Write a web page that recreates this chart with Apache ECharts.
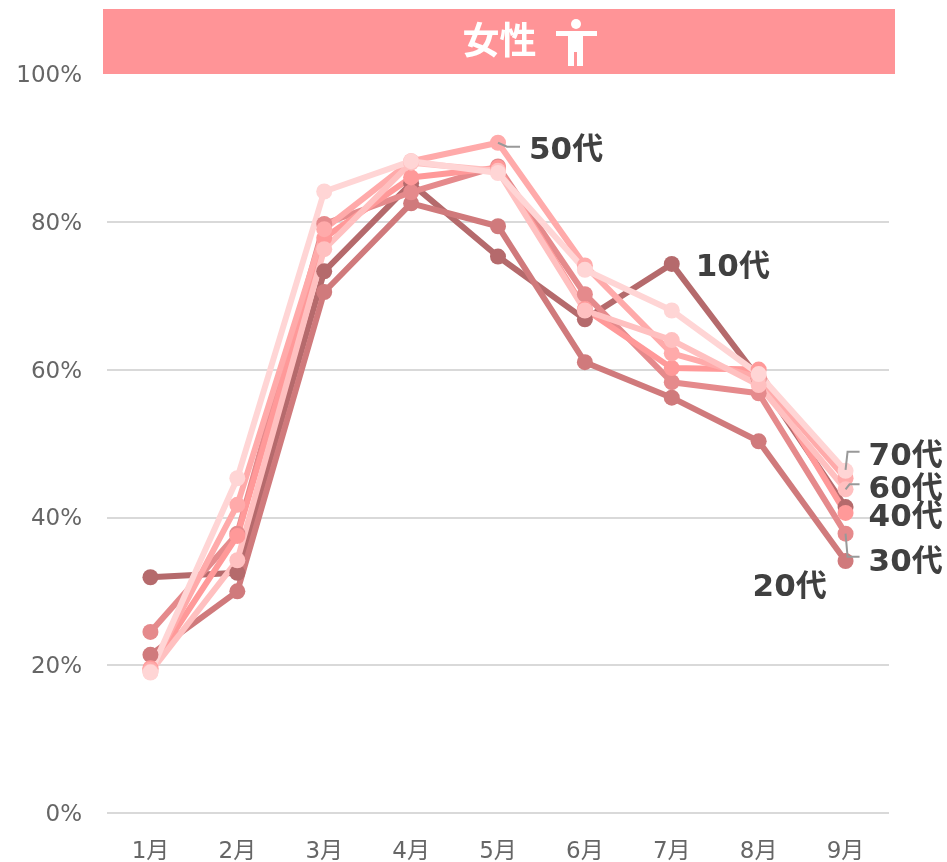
<!DOCTYPE html>
<html>
<head>
<meta charset="utf-8">
<script src="https://cdn.jsdelivr.net/npm/echarts@6/dist/echarts.min.js"></script>
<style>
  html, body { margin: 0; padding: 0; background: #fff; }
  #chart { width: 947px; height: 862px; }
</style>
</head>
<body>
<div id="chart"></div>
<script>
var months = ['1月', '2月', '3月', '4月', '5月', '6月', '7月', '8月', '9月'];
var teens = [31.9, 32.5, 73.3, 85.2, 75.3, 66.8, 74.3, 58.8, 41.4];
var twenties = [21.4, 30.0, 70.5, 82.5, 79.4, 61.0, 56.2, 50.3, 34.1];
var thirties = [24.5, 37.8, 79.7, 84.0, 87.5, 70.2, 58.3, 56.8, 37.8];
var forties = [19.6, 37.5, 77.8, 86.0, 87.3, 68.2, 60.2, 60.0, 40.6];
var fifties = [19.4, 41.7, 79.0, 88.2, 90.7, 74.1, 62.2, 58.9, 45.3];
var sixties = [19.1, 34.2, 76.3, 88.0, 86.9, 68.0, 64.0, 57.9, 43.8];
var seventies = [19.0, 45.3, 84.1, 88.2, 86.6, 73.5, 68.0, 59.4, 46.3];

var fontFamily = '"DejaVu Sans", "Noto Sans CJK JP", sans-serif';

// label: index of the labelled point and offset from it
var seriesList = [
  { name: '10代', data: teens, color: '#b56a6c', at: 6, off: [11, 4] },
  { name: '20代', data: twenties, color: '#d07a7c', at: 8, off: [-106, 27] },
  { name: '30代', data: thirties, color: '#e58a8c', at: 8, off: [10, 29] },
  { name: '40代', data: forties, color: '#ff9999', at: 8, off: [10, 5] },
  { name: '50代', data: fifties, color: '#ffaaaa', at: 4, off: [18, 8] },
  { name: '60代', data: sixties, color: '#ffc0c0', at: 8, off: [10, 1] },
  { name: '70代', data: seventies, color: '#ffd5d5', at: 8, off: [10, -14] }
];

var series = seriesList.map(function (s) {
  return {
    name: s.name,
    type: 'line',
    symbol: 'circle',
    symbolSize: 16,
    lineStyle: { width: 6, color: s.color },
    itemStyle: { color: s.color },
    animation: false,
    data: s.data.map(function (v, i) {
      if (i !== s.at) return v;
      return {
        value: v,
        label: {
          show: true,
          position: 'right',
          offset: s.off,
          formatter: s.name,
          color: '#404040',
          fontSize: 31,
          fontWeight: 'bold',
          fontFamily: fontFamily
        }
      };
    })
  };
});

var chart = echarts.init(document.getElementById('chart'));
chart.setOption({
  animation: false,
  backgroundColor: '#fff',
  grid: { left: 107, right: 58, top: 74, bottom: 49, outerBoundsMode: 'none' },
  xAxis: {
    type: 'category',
    data: months,
    axisLine: { show: false },
    axisTick: { show: false },
    axisLabel: { color: '#666', fontSize: 23, margin: 28, fontFamily: fontFamily }
  },
  yAxis: {
    type: 'value',
    min: 0,
    max: 100,
    interval: 20,
    axisLine: { show: false },
    axisTick: { show: false },
    // lineHeight + top align nudges the text down onto the gridline
    axisLabel: { color: '#666', fontSize: 23, margin: 25, verticalAlign: 'top', lineHeight: 4, fontFamily: fontFamily, formatter: '{value}%' },
    splitLine: { showMaxLine: false, lineStyle: { color: '#d9d9d9', width: 2 } }
  },
  series: series
});

// short leader lines from a point to its label
function leader(s, pts) {
  var p = chart.convertToPixel({ seriesName: s.name }, [s.at, s.data[s.at]]);
  return {
    type: 'polyline',
    silent: true,
    z: 50,
    shape: { points: pts.map(function (d) { return [p[0] + d[0], p[1] + d[1]]; }) },
    style: { stroke: '#999', lineWidth: 2, fill: 'none' }
  };
}

chart.setOption({
  graphic: [
    { type: 'rect', z: 40, shape: { x: 103, y: 9, width: 792, height: 65 }, style: { fill: '#ff9497' } },
    { type: 'text', z: 41, style: { x: 499.5, y: 44, text: '女性', fill: '#fff', font: 'bold 37px "DejaVu Sans", "Noto Sans CJK JP", sans-serif', align: 'center', verticalAlign: 'middle' } },
    { type: 'circle', z: 41, shape: { cx: 576, cy: 24, r: 5 }, style: { fill: '#fff' } },
    { type: 'rect', z: 41, shape: { x: 556, y: 31, width: 41, height: 5 }, style: { fill: '#fff' } },
    { type: 'rect', z: 41, shape: { x: 568, y: 31, width: 15, height: 35 }, style: { fill: '#fff' } },
    { type: 'rect', z: 41, shape: { x: 574, y: 52, width: 3, height: 14 }, style: { fill: '#ff9497' } },
    leader(seriesList[6], [[0, -1], [2, -19], [14, -19]]),
    leader(seriesList[5], [[0, 0], [4, -5], [14, -5]]),
    leader(seriesList[4], [[0, 0], [9, 4], [22, 4]]),
    leader(seriesList[2], [[0, 0], [2, 23], [14, 23]])
  ]
});
</script>
</body>
</html>
